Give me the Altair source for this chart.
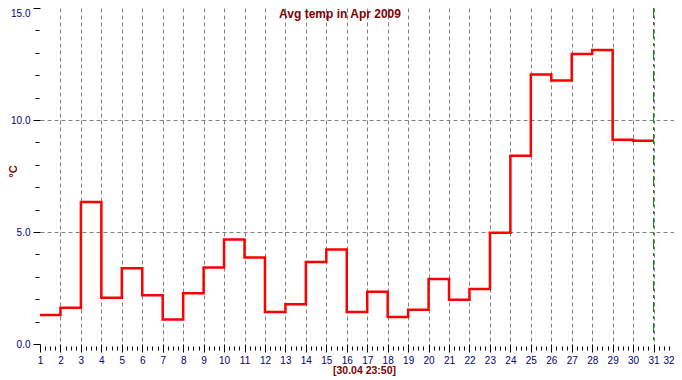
import altair as alt
import pandas as pd

# ---- data ----
days = list(range(1, 32))
temps = [1.30, 1.62, 6.34, 2.06, 3.38, 2.18, 1.09, 2.27, 3.42, 4.66,
         3.86, 1.43, 1.78, 3.66, 4.22, 1.43, 2.33, 1.21, 1.53, 2.90,
         1.97, 2.45, 4.97, 8.40, 12.03, 11.76, 12.95, 13.13, 9.12, 9.07,
         9.07]
x_ticks = list(range(1, 33))
x_minor = [d + f for d in range(1, 32) for f in (0.25, 0.5, 0.75)]
y_ticks = [0, 5, 10, 15]
y_minor = [v for v in range(1, 15) if v % 5]
marker_day = [31]
title_text = "Avg temp in Apr 2009"
y_title = "°C"
x_title = "[30.04 23:50]"

df = pd.DataFrame({"day": days, "temp": temps})
marker = pd.DataFrame({"day": marker_day})

NAVY = "#000080"
MAROON = "#800000"
GRID = "#808080"
FONT = "Liberation Sans"

xscale = alt.Scale(domain=[1, 32], nice=False, zero=False)
yscale = alt.Scale(domain=[0, 15], nice=False, zero=False)

x_major_axis = alt.Axis(
    values=x_ticks, orient="bottom", domain=False, tickSize=8, tickColor="black",
    labelColor=NAVY, labelFont=FONT, labelFontSize=10, labelPadding=3,
    labelAngle=0, format="d", labelFlush=False, labelOverlap=False,
    labelAlign={"condition": {"test": "datum.value == 32", "value": "right"}, "value": "center"},
    grid=True, gridColor=GRID, gridDash=[4, 3],
    gridOpacity={"condition": {"test": "datum.value == 1 || datum.value >= 32", "value": 0}, "value": 1},
    title=x_title, titleColor=MAROON, titleFont=FONT, titleFontSize=10.5,
    titleFontWeight="bold", titleX=324, titleY=26.5, titleAlign="center",
    titleBaseline="middle",
)
y_major_axis = alt.Axis(
    values=y_ticks, orient="left", domain=False, tickSize=7, tickColor="black",
    labelColor=NAVY, labelFont=FONT, labelFontSize=10, labelPadding=3,
    format=".1f", labelFlush=False, labelOverlap=False,
    labelBaseline={"condition": {"test": "datum.value == 15", "value": "top"}, "value": "middle"},
    grid=True, gridColor=GRID, gridDash=[4, 3],
    gridOpacity={"condition": {"test": "datum.value == 0 || datum.value == 15", "value": 0}, "value": 1},
    title=y_title, titleColor=MAROON, titleFont=FONT, titleFontSize=11,
    titleFontWeight="bold", titleAngle=270, titleX=-27, titleY=163,
    titleAlign="center", titleBaseline="middle",
)
x_minor_axis = alt.Axis(values=x_minor, orient="bottom", domain=False, labels=False,
                        tickSize=4, offset=2, tickColor="black", grid=False, title=None)
y_minor_axis = alt.Axis(values=y_minor, orient="left", domain=False, labels=False,
                        tickSize=4, offset=1, tickColor="black", grid=False, title=None)

line = alt.Chart(df).mark_line(interpolate="step-after", color="#FF0000", strokeWidth=2.5).encode(
    x=alt.X("day:Q", scale=xscale, axis=x_major_axis),
    y=alt.Y("temp:Q", scale=yscale, axis=y_major_axis),
)
minor = alt.Chart(df).mark_point(opacity=0).encode(
    x=alt.X("day:Q", scale=xscale, axis=x_minor_axis),
    y=alt.Y("temp:Q", scale=yscale, axis=y_minor_axis),
)
rule = alt.Chart(marker).mark_rule(color="#008000", strokeWidth=1, strokeDash=[10, 4, 3, 4]).encode(
    x=alt.X("day:Q", scale=xscale, axis=None),
)

chart = alt.layer(line, minor, rule).resolve_axis(
    x="independent", y="independent"
).properties(
    width=634, height=336,
    padding={"left": 32, "top": 0, "right": 0, "bottom": 36},
    autosize=alt.AutoSizeParams(type="none"),
    background="white",
    title=alt.TitleParams(text=title_text, anchor="middle", frame="group", orient="top",
                          offset=-9, baseline="alphabetic", dx=-17, dy=13, color=MAROON,
                          font=FONT, fontSize=12, fontWeight="bold"),
).configure_view(stroke=None)

chart.save("out.html", embed_options={"renderer": "svg", "actions": False})
